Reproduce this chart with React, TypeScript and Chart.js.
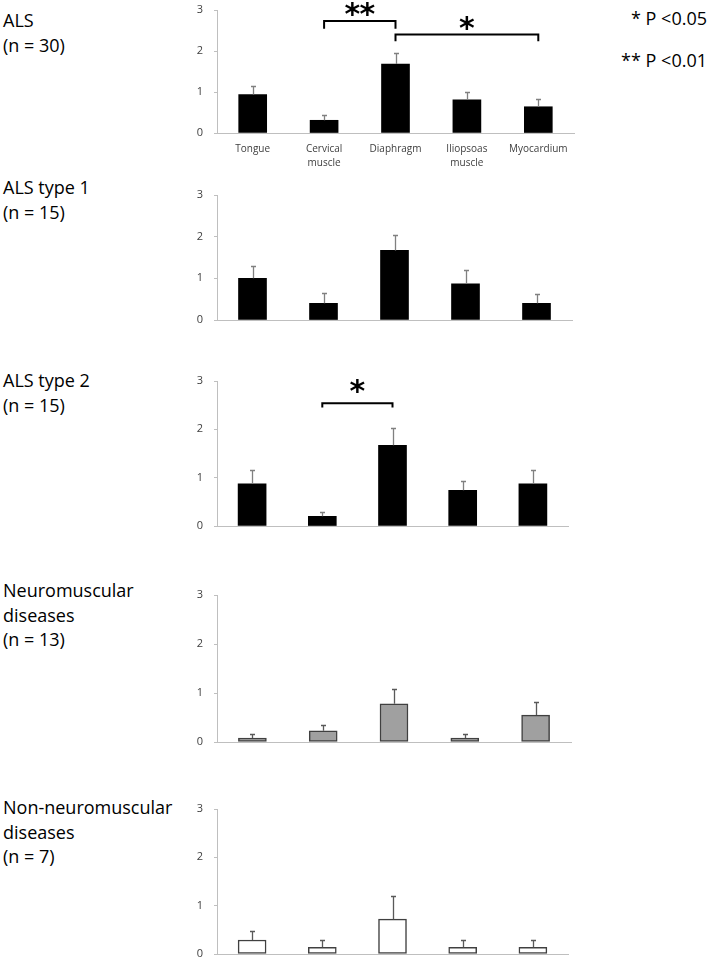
import React, { useEffect, useRef } from "react";
import { Chart, registerables } from "chart.js";
Chart.register(...registerables);

// ---------- data ----------
const categories: (string | string[])[] = [
  "Tongue",
  ["Cervical", "muscle"],
  "Diaphragm",
  ["Iliopsoas", "muscle"],
  "Myocardium",
];
const yTickValues = [0, 1, 2, 3];

const alsMeans = [0.94, 0.31, 1.68, 0.81, 0.64];
const alsErrors = [0.2, 0.125, 0.26, 0.18, 0.18];
const alsType1Means = [1.0, 0.4, 1.67, 0.87, 0.4];
const alsType1Errors = [0.3, 0.24, 0.38, 0.32, 0.22];
const alsType2Means = [0.87, 0.2, 1.67, 0.74, 0.87];
const alsType2Errors = [0.29, 0.1, 0.35, 0.2, 0.29];
const neuroMeans = [0.08, 0.23, 0.78, 0.08, 0.55];
const neuroErrors = [0.08, 0.12, 0.3, 0.08, 0.26];
const nonNeuroMeans = [0.29, 0.14, 0.72, 0.14, 0.14];
const nonNeuroErrors = [0.18, 0.15, 0.48, 0.15, 0.15];

const groupLabels = [
  ["ALS", "(n = 30)"],
  ["ALS type 1", "(n = 15)"],
  ["ALS type 2", "(n = 15)"],
  ["Neuromuscular", "diseases", "(n = 13)"],
  ["Non-neuromuscular", "diseases", "(n = 7)"],
];
const pLegend = ["* P <0.05", "** P <0.01"];

type Bracket = { from: number; to: number; level: number; leg: number; stars: string; starLevel: number };
const alsBrackets: Bracket[] = [
  { from: 1, to: 2, level: 2.73, leg: 2.54, stars: "**", starLevel: 3.01 },
  { from: 2, to: 4, level: 2.4, leg: 2.24, stars: "*", starLevel: 2.68 },
];
const alsType2Brackets: Bracket[] = [
  { from: 1, to: 2, level: 2.54, leg: 2.45, stars: "*", starLevel: 2.88 },
];

// ---------- layout / style ----------
const FONT = "'Open Sans', sans-serif";
const CANVAS_LEFT = 180;
const CANVAS_W = 400;

type PanelCfg = {
  means: number[];
  errors: number[];
  brackets: Bracket[];
  plotTop: number;
  plotBottom: number;
  right: number;
  showX: boolean;
  fill: string;
  border: string;
  borderWidth: number;
  errColor: string;
  labelTop: number;
};

const panels: PanelCfg[] = [
  { means: alsMeans, errors: alsErrors, brackets: alsBrackets, plotTop: 10, plotBottom: 133, right: 574, showX: true, fill: "#000000", border: "#000000", borderWidth: 0, errColor: "#808080", labelTop: 8 },
  { means: alsType1Means, errors: alsType1Errors, brackets: [], plotTop: 195, plotBottom: 320, right: 572, showX: false, fill: "#000000", border: "#000000", borderWidth: 0, errColor: "#808080", labelTop: 175 },
  { means: alsType2Means, errors: alsType2Errors, brackets: alsType2Brackets, plotTop: 381, plotBottom: 526, right: 568, showX: false, fill: "#000000", border: "#000000", borderWidth: 0, errColor: "#808080", labelTop: 368 },
  { means: neuroMeans, errors: neuroErrors, brackets: [], plotTop: 595, plotBottom: 742, right: 571, showX: false, fill: "#a0a0a0", border: "#404040", borderWidth: 1.5, errColor: "#595959", labelTop: 578 },
  { means: nonNeuroMeans, errors: nonNeuroErrors, brackets: [], plotTop: 809, plotBottom: 954, right: 568, showX: false, fill: "#ffffff", border: "#404040", borderWidth: 1.5, errColor: "#595959", labelTop: 795 },
];

const PAD_TOP = 22;
const PAD_BOTTOM = 22;
const X_AXIS_H = 40;

function Panel({ cfg }: { cfg: PanelCfg }) {
  const ref = useRef<HTMLCanvasElement | null>(null);
  const xH = cfg.showX ? X_AXIS_H : 0;
  const padBottom = cfg.showX ? 0 : PAD_BOTTOM;
  const height = PAD_TOP + (cfg.plotBottom - cfg.plotTop) + xH + padBottom;
  const top = cfg.plotTop - PAD_TOP;

  useEffect(() => {
    if (!ref.current) return;
    const errPlugin = {
      id: "errbars",
      afterDatasetsDraw(chart: any) {
        const ctx = chart.ctx;
        const meta = chart.getDatasetMeta(0);
        const ys = chart.scales.y;
        ctx.save();
        ctx.strokeStyle = cfg.errColor;
        ctx.lineWidth = 1.3;
        meta.data.forEach((bar: any, i: number) => {
          const x = Math.round(bar.x) + 0.5;
          const y0 = ys.getPixelForValue(cfg.means[i]);
          const y1 = Math.round(ys.getPixelForValue(cfg.means[i] + cfg.errors[i])) + 0.5;
          ctx.beginPath();
          ctx.moveTo(x, y0);
          ctx.lineTo(x, y1);
          ctx.moveTo(x - 2.5, y1);
          ctx.lineTo(x + 2.5, y1);
          ctx.stroke();
        });
        ctx.restore();
      },
      afterDraw(chart: any) {
        const ctx = chart.ctx;
        const meta = chart.getDatasetMeta(0);
        const ys = chart.scales.y;
        ctx.save();
        cfg.brackets.forEach((b) => {
          const x1 = meta.data[b.from].x;
          const x2 = meta.data[b.to].x;
          const yl = ys.getPixelForValue(b.level);
          const yg = ys.getPixelForValue(b.leg);
          ctx.strokeStyle = "#000";
          ctx.lineWidth = 2;
          ctx.beginPath();
          ctx.moveTo(x1, yg);
          ctx.lineTo(x1, yl);
          ctx.lineTo(x2, yl);
          ctx.lineTo(x2, yg);
          ctx.stroke();
          // stars
          ctx.fillStyle = "#000";
          ctx.font = "bold 30px 'DejaVu Sans'";
          ctx.textAlign = "center";
          ctx.textBaseline = "alphabetic";
          const m = ctx.measureText("*");
          const cy = ys.getPixelForValue(b.starLevel);
          const baseY = cy + (m.actualBoundingBoxAscent - m.actualBoundingBoxDescent) / 2;
          const cx = (x1 + x2) / 2;
          const n = b.stars.length;
          const gap = 15;
          for (let k = 0; k < n; k++) {
            const sx = cx + (k - (n - 1) / 2) * gap;
            ctx.fillText("*", sx, baseY);
          }
        });
        ctx.restore();
      },
    };

    const chart = new Chart(ref.current, {
      type: "bar",
      data: {
        labels: categories as any,
        datasets: [
          {
            data: cfg.means,
            backgroundColor: cfg.fill,
            borderColor: cfg.border,
            borderWidth: cfg.borderWidth,
            borderSkipped: false,
            barThickness: 28,
          },
        ],
      },
      options: {
        responsive: false,
        animation: false,
        devicePixelRatio: 1,
        layout: {
          padding: { top: PAD_TOP, right: CANVAS_W - (cfg.right - CANVAS_LEFT), bottom: padBottom, left: 0 },
        },
        plugins: { legend: { display: false }, tooltip: { enabled: false }, title: { display: false } },
        scales: {
          x: {
            type: "category",
            offset: true,
            grid: { display: false, drawTicks: false },
            border: { display: true, color: "#bfbfbf", width: 1 },
            ticks: {
              display: cfg.showX,
              font: { family: FONT, size: 10, lineHeight: 1.4 },
              color: "#404040",
              padding: 9,
              maxRotation: 0,
              autoSkip: false,
            },
            afterFit: (s: any) => {
              s.height = xH;
            },
          },
          y: {
            min: 0,
            max: 3,
            afterBuildTicks: (s: any) => {
              s.ticks = yTickValues.map((v) => ({ value: v }));
            },
            ticks: { font: { family: FONT, size: 11 }, color: "#404040", padding: 11 },
            grid: { drawOnChartArea: false, drawTicks: true, tickLength: 3, color: "#bfbfbf" },
            border: { display: true, color: "#bfbfbf", width: 1 },
            afterFit: (s: any) => {
              s.width = 37;
            },
          },
        },
      },
      plugins: [errPlugin],
    } as any);
    return () => chart.destroy();
  }, []);

  return (
    <canvas
      ref={ref}
      width={CANVAS_W}
      height={height}
      style={{ position: "absolute", left: CANVAS_LEFT, top, width: CANVAS_W, height }}
    />
  );
}

export default function App() {
  return (
    <div style={{ position: "absolute", left: 0, top: 0, width: 709, height: 961, background: "#fff", overflow: "hidden" }}>
      {panels.map((p, i) => (
        <Panel key={i} cfg={p} />
      ))}
      {panels.map((p, i) => (
        <div
          key={"l" + i}
          style={{
            position: "absolute",
            left: 3,
            top: p.labelTop,
            fontFamily: FONT,
            fontSize: 18,
            lineHeight: "24.5px",
            color: "#000",
            whiteSpace: "nowrap",
          }}
        >
          {groupLabels[i].map((t, k) => (
            <div key={k}>{t}</div>
          ))}
        </div>
      ))}
      {pLegend.map((t, i) => (
        <div
          key={"p" + i}
          style={{
            position: "absolute",
            right: 2,
            top: i === 0 ? 6 : 48,
            fontFamily: FONT,
            fontSize: 18,
            lineHeight: "24px",
            color: "#000",
            whiteSpace: "nowrap",
          }}
        >
          {t}
        </div>
      ))}
    </div>
  );
}
